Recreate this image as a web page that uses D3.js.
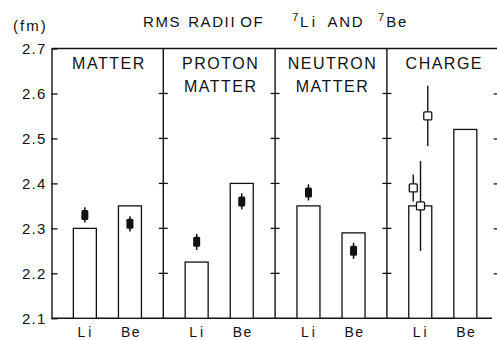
<!DOCTYPE html>
<html>
<head>
<meta charset="utf-8">
<script src="https://cdn.jsdelivr.net/npm/d3@7"></script>
<style>
  html, body { margin: 0; padding: 0; background: #fff; }
  svg { display: block; }
  text { font-family: "Liberation Sans", Arial, sans-serif; fill: #111; }
</style>
</head>
<body>
<svg id="chart" width="497" height="340"></svg>
<script>
// Panels: which radius is shown, and the two nuclei in each panel
const panelLabels = [["MATTER"], ["PROTON", "MATTER"], ["NEUTRON", "MATTER"], ["CHARGE"]];
const nuclei = ["Li", "Be"];

// Calculated rms radii (fm), one pair [Li, Be] per panel
const calcMatter  = [2.30, 2.35];
const calcProton  = [2.225, 2.40];
const calcNeutron = [2.35, 2.29];
const calcCharge  = [2.35, 2.52];

// Experimental rms radii (fm) with uncertainties, [Li, Be]
const expMatter     = [2.33, 2.31];
const expMatterErr  = [0.017, 0.017];
const expProton     = [2.27, 2.36];
const expProtonErr  = [0.018, 0.018];
const expNeutron    = [2.38, 2.25];
const expNeutronErr = [0.018, 0.018];

// Measured 7Li charge radii (fm) and their errors
const chargeLi    = [2.39, 2.35, 2.55];
const chargeLiErr = [0.03, 0.10, 0.067];

// Axis ticks
const yTicks = [2.1, 2.2, 2.3, 2.4, 2.5, 2.6, 2.7];
const innerTicks = [2.2, 2.3, 2.4, 2.5, 2.6];

const calc = [calcMatter, calcProton, calcNeutron, calcCharge];
const exp = [
  { v: expMatter, e: expMatterErr },
  { v: expProton, e: expProtonErr },
  { v: expNeutron, e: expNeutronErr },
  null
];

const svg = d3.select("#chart");
const mLeft = 51.5, mTop = 48.5, mBottom = 318.3, mRight = 498.7;
const ink = "#111";

const y = d3.scaleLinear().domain([2.1, 2.7]).range([mBottom, mTop]);
const panel = d3.scaleBand().domain(d3.range(panelLabels.length)).range([mLeft, mRight]).padding(0);
const pw = panel.bandwidth();
const nx = d3.scalePoint().domain(nuclei).range([0, pw]).padding(0.74);
const cx = d3.scalePoint().domain(d3.range(chargeLi.length)).range([-7, 7.5]);
const barW = 23;

// Frame: top line and baseline
svg.append("line").attr("x1", mLeft).attr("x2", 497).attr("y1", y(2.7)).attr("y2", y(2.7))
  .attr("stroke", ink).attr("stroke-width", 1.4);
svg.append("line").attr("x1", mLeft).attr("x2", 492).attr("y1", y(2.1)).attr("y2", y(2.1))
  .attr("stroke", ink).attr("stroke-width", 1.6);

// Left axis with inward ticks
const yAxis = svg.append("g").attr("transform", `translate(${mLeft},0)`)
  .call(d3.axisLeft(y).tickValues(yTicks).tickFormat(d3.format(".1f"))
    .tickSizeInner(-6).tickSizeOuter(0).tickPadding(5));
yAxis.select(".domain").attr("stroke", ink).attr("stroke-width", 1.4);
yAxis.selectAll(".tick line").attr("stroke", ink).attr("stroke-width", 1.3);
yAxis.selectAll(".tick text").attr("font-size", 15).attr("letter-spacing", 1.2)
  .style("font-family", "Liberation Sans, Arial, sans-serif").attr("fill", ink);

// Right axis (ticks pointing inward)
const rAxis = svg.append("g").attr("transform", `translate(${mRight},0)`)
  .call(d3.axisRight(y).tickValues(innerTicks).tickFormat("").tickSizeInner(-5).tickSizeOuter(0));
rAxis.select(".domain").attr("stroke", ink).attr("stroke-width", 1.4);
rAxis.selectAll(".tick line").attr("stroke", ink).attr("stroke-width", 1.3);

// Panel dividers with crossing ticks
const dividers = d3.range(1, panelLabels.length).map(i => panel(i));
const div = svg.append("g");
div.selectAll("line.div").data(dividers).join("line")
  .attr("x1", d => d).attr("x2", d => d).attr("y1", y(2.7)).attr("y2", y(2.1))
  .attr("stroke", ink).attr("stroke-width", 1.4);
dividers.forEach(dx => {
  div.append("g").selectAll("line").data(innerTicks).join("line")
    .attr("x1", dx - 4.5).attr("x2", dx + 4.5)
    .attr("y1", d => y(d)).attr("y2", d => y(d))
    .attr("stroke", ink).attr("stroke-width", 1.3);
});

// Panels
panelLabels.forEach((lines, p) => {
  const g = svg.append("g").attr("transform", `translate(${panel(p)},0)`);

  // Panel heading
  const t = g.append("text").attr("x", pw / 2 + 1.5).attr("y", 68.5)
    .attr("text-anchor", "middle").attr("font-size", 16).attr("letter-spacing", 1.5);
  lines.forEach((ln, i) => {
    t.append("tspan").attr("x", pw / 2 + 1.5).attr("dy", i === 0 ? 0 : 23.4).text(ln);
  });

  // Calculated radii as bars
  g.append("g").selectAll("rect").data(nuclei).join("rect")
    .attr("x", n => nx(n) - barW / 2)
    .attr("y", (n, i) => y(calc[p][i]))
    .attr("width", barW)
    .attr("height", (n, i) => y(2.1) - y(calc[p][i]))
    .attr("fill", "#fff").attr("stroke", ink).attr("stroke-width", 1.3);

  // Experimental radii as filled markers with error bars
  if (exp[p]) {
    const e = exp[p];
    g.append("g").selectAll("line").data(nuclei).join("line")
      .attr("x1", n => nx(n)).attr("x2", n => nx(n))
      .attr("y1", (n, i) => y(e.v[i] + e.e[i]))
      .attr("y2", (n, i) => y(e.v[i] - e.e[i]))
      .attr("stroke", ink).attr("stroke-width", 1.5);
    g.append("g").selectAll("rect").data(nuclei).join("rect")
      .attr("x", n => nx(n) - 3.5)
      .attr("y", (n, i) => y(e.v[i]) - 5)
      .attr("width", 7).attr("height", 10).attr("rx", 1.5)
      .attr("fill", ink);
  }

  // Nucleus labels under the axis
  g.append("g").selectAll("text").data(nuclei).join("text")
    .attr("x", n => nx(n) + 1).attr("y", 336.5)
    .attr("text-anchor", "middle").attr("font-size", 14)
    .attr("letter-spacing", n => n === "Li" ? 3 : 1.5)
    .text(n => n);
});

// Charge panel: measured 7Li charge radii as open squares
const gc = svg.append("g").attr("transform", `translate(${panel(3) + nx("Li")},0)`);
const chargeIdx = d3.range(chargeLi.length);
gc.append("g").selectAll("line").data(chargeIdx).join("line")
  .attr("x1", i => cx(i)).attr("x2", i => cx(i))
  .attr("y1", i => y(chargeLi[i] + chargeLiErr[i]))
  .attr("y2", i => y(chargeLi[i] - chargeLiErr[i]))
  .attr("stroke", ink).attr("stroke-width", 1.4);
gc.append("g").selectAll("rect").data(chargeIdx).join("rect")
  .attr("x", i => cx(i) - 4).attr("y", i => y(chargeLi[i]) - 4)
  .attr("width", 8).attr("height", 8).attr("rx", 1)
  .attr("fill", "#fff").attr("stroke", ink).attr("stroke-width", 1.3);

// Unit and title
svg.append("text").attr("x", 13).attr("y", 31).attr("font-size", 15).attr("letter-spacing", 2).text("(fm)");

// Title: words flow left to right; gap = extra space before the word, sup = raised mass number
const titleWords = [
  { s: "RMS", gap: 0 }, { s: "RADII", gap: 7 }, { s: "OF", gap: 4 },
  { s: "7", gap: 28, sup: true }, { s: "Li", gap: 0, ls: 3.5 }, { s: "AND", gap: 9 },
  { s: "7", gap: 14, sup: true }, { s: "Be", gap: 0.5 }
];
const title = svg.append("text").attr("x", 143).attr("y", 26.7)
  .attr("font-size", 15).attr("letter-spacing", 1.6);
let raised = false;
titleWords.forEach(w => {
  const shift = w.sup ? (raised ? 0 : -6.2) : (raised ? 6.2 : 0);
  raised = !!w.sup;
  title.append("tspan").attr("dx", w.gap).attr("dy", shift)
    .attr("font-size", w.sup ? 11 : 15)
    .attr("letter-spacing", w.ls || 1.6)
    .text(w.s);
});
</script>
</body>
</html>
